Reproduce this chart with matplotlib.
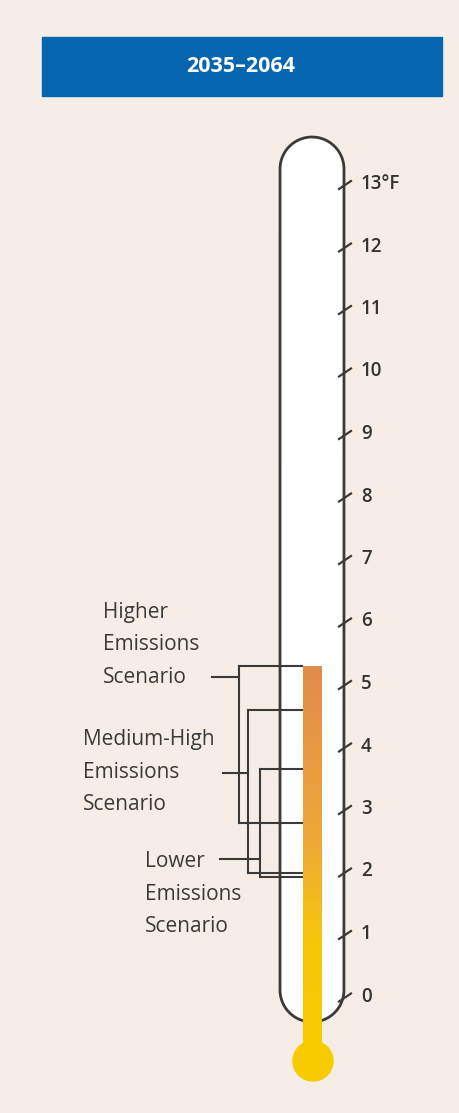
import numpy as np
import matplotlib
matplotlib.use("Agg")
import matplotlib.pyplot as plt
from matplotlib.patches import Rectangle, Ellipse, Polygon
from matplotlib.colors import LinearSegmentedColormap

# ---- data -------------------------------------------------------------
period_label = "2035–2064"
tick_values = list(range(0, 14))
tick_labels = [str(v) for v in tick_values[:-1]] + ["13°F"]

scenario_names = ["Higher\nEmissions\nScenario",
                  "Medium-High\nEmissions\nScenario",
                  "Lower\nEmissions\nScenario"]
warming_low = [2.8, 2.0, 1.93]    # °F
warming_high = [5.3, 4.6, 3.65]   # °F
mercury_level = max(warming_high)

# ---- layout (pixels) ----------------------------------------------------
W, H = 460, 1113
PX_PER_DEG = 62.5
ZERO_PX = 997.5            # pixel row of 0 °F


def yd(py):
    """pixel row -> degrees on the thermometer scale"""
    return (ZERO_PX - py) / PX_PER_DEG


BG = "#F6EEE6"
INK = "#3a3a3a"
BLUE = "#0565AE"

tube_cx, tube_r = 312, 32
tube_top_c, tube_bot_c = 169, 990
bar_x0, bar_x1 = 303, 322
bulb_c, bulb_r = (313, 1061), 20

bracket_x = [239, 248, 260]
connector_y = [677, 773, 859]
connector_x0 = [212, 223, 220]
label_xy = [(103, 645), (83, 772), (145, 894)]

fig = plt.figure(figsize=(W / 100, H / 100), dpi=100, facecolor=BG)
ax = fig.add_axes([0, 0, 1, 1])
ax.set_facecolor(BG)
ax.set_xlim(0, W)
ax.set_ylim(yd(H), yd(0))
ax.axis("off")

FONT = ["Open Sans", "DejaVu Sans"]

# header band
ax.add_patch(Rectangle((42, yd(96)), 400, yd(37) - yd(96), color=BLUE, zorder=1))
ax.text(241, yd(67), period_label, color="white", fontsize=15.5, fontweight="bold",
        ha="center", va="center", family=FONT, zorder=2)

# thermometer glass outline (pixel space -> degrees)
t_top = np.linspace(np.pi, 0, 60)
top_x = tube_cx + tube_r * np.cos(t_top)
top_y = tube_top_c - tube_r * np.sin(t_top)
neck_half = (bar_x1 - bar_x0) / 2
a_neck = np.arcsin(neck_half / tube_r)
t_bl = np.linspace(np.pi, 1.5 * np.pi - a_neck, 40)
t_br = np.linspace(1.5 * np.pi + a_neck, 2 * np.pi, 40)
bl_x = tube_cx + tube_r * np.cos(t_bl)
bl_y = tube_bot_c - tube_r * np.sin(t_bl)
br_x = tube_cx + tube_r * np.cos(t_br)
br_y = tube_bot_c - tube_r * np.sin(t_br)

outline_x = np.concatenate([bl_x[::-1], top_x, br_x[::-1]])
outline_y = np.concatenate([bl_y[::-1], top_y, br_y[::-1]])
fill_poly = np.column_stack([outline_x, yd(outline_y)])
ax.add_patch(Polygon(fill_poly, closed=True, facecolor="white", edgecolor="none", zorder=2))
ax.plot(outline_x, yd(outline_y), color=INK, lw=2.0, zorder=5, solid_capstyle="round")

# scale ticks and labels
for v, lab in zip(tick_values, tick_labels):
    ax.plot([339, 351], [v - 4 / PX_PER_DEG, v + 4 / PX_PER_DEG], color=INK, lw=1.6, zorder=6)
    ax.text(361, v + 1 / PX_PER_DEG, lab, color="#333333", fontsize=13.5, ha="left",
            va="center", fontweight="semibold", family=FONT, zorder=6)

# scenario brackets
for i in range(len(scenario_names)):
    bx = bracket_x[i]
    ax.plot([bx, bx], [warming_low[i], warming_high[i]], color=INK, lw=1.5, zorder=4)
    for v in (warming_low[i], warming_high[i]):
        ax.plot([bx, bar_x0 - 1], [v, v], color=INK, lw=1.5, zorder=4)
    ax.plot([connector_x0[i], bx], [yd(connector_y[i])] * 2, color=INK, lw=1.5, zorder=4)
    lx, ly = label_xy[i]
    ax.text(lx, yd(ly), scenario_names[i], color=INK, fontsize=15, ha="left",
            va="center", linespacing=1.72, family=FONT, zorder=6)

# mercury column with warm gradient
cmap = LinearSegmentedColormap.from_list(
    "mercury", [(0.0, "#F8CB00"), (0.3, "#F6C60A"), (0.55, "#EDAA36"), (1.0, "#E08C4C")])
bar_bottom = yd(bulb_c[1])
grad = np.linspace(0, 1, 256).reshape(-1, 1)
ax.imshow(grad, cmap=cmap, origin="lower", aspect="auto", interpolation="bilinear",
          extent=[bar_x0, bar_x1, bar_bottom, mercury_level], zorder=7)
ax.add_patch(Ellipse((bulb_c[0], yd(bulb_c[1])), 2 * bulb_r, 2 * bulb_r / PX_PER_DEG,
                     color="#F8CB00", zorder=7))
ax.set_xlim(0, W)
ax.set_ylim(yd(H), yd(0))

fig.savefig("out.png", dpi=100, facecolor=BG)
